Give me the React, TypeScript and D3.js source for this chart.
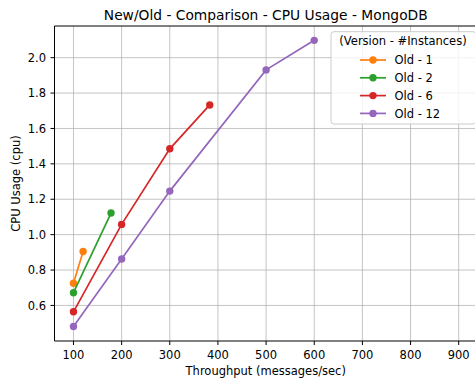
import React from "react";
import * as d3 from "d3";

// Throughput (messages/sec) and CPU usage per deployment size
const old1X = [100, 120];
const old1Y = [0.725, 0.905];
const old2X = [100, 178];
const old2Y = [0.672, 1.122];
const old6X = [100, 200, 300, 383];
const old6Y = [0.564, 1.058, 1.485, 1.733];
const old12X = [100, 200, 300, 500, 600];
const old12Y = [0.481, 0.862, 1.246, 1.931, 2.098];

const seriesNames = ["Old - 1", "Old - 2", "Old - 6", "Old - 12"];
const seriesColors = ["#ff7f0e", "#2ca02c", "#d62728", "#9467bd"];
const xTicks = [100, 200, 300, 400, 500, 600, 700, 800, 900];
const yTicks = [0.6, 0.8, 1.0, 1.2, 1.4, 1.6, 1.8, 2.0];

const W = 475;
const H = 381;
const M = { left: 54.5, right: 477, top: 26, bottom: 341 };
const FONT = "DejaVu Sans, sans-serif";
const FS = 11.5;

export default function App() {
  const x = d3.scaleLinear().domain([60.6, 938]).range([M.left, M.right]);
  const y = d3.scaleLinear().domain([0.399, 2.179]).range([M.bottom, M.top]);

  const series = [
    { xs: old1X, ys: old1Y },
    { xs: old2X, ys: old2Y },
    { xs: old6X, ys: old6Y },
    { xs: old12X, ys: old12Y },
  ].map((s, i) => ({
    name: seriesNames[i],
    color: seriesColors[i],
    pts: s.xs.map((v, j) => [v, s.ys[j]] as [number, number]),
  }));

  const line = d3
    .line<[number, number]>()
    .x((d) => x(d[0]))
    .y((d) => y(d[1]));

  const lg = { x: 331, y: 31.7, w: 145, h: 92.3 };

  return (
    <svg
      width={W}
      height={H}
      style={{ position: "absolute", left: 0, top: 0, background: "#fff" }}
      fontFamily={FONT}
    >
      <defs>
        <clipPath id="plot">
          <rect x={M.left} y={M.top - 5} width={M.right - M.left} height={M.bottom - M.top + 10} />
        </clipPath>
      </defs>
      {/* grid */}
      <g stroke="#b0b0b0" strokeOpacity={0.75} strokeWidth={1}>
        {xTicks.map((t) => (
          <line key={"gx" + t} x1={x(t)} x2={x(t)} y1={M.top} y2={M.bottom} />
        ))}
        {yTicks.map((t) => (
          <line key={"gy" + t} x1={M.left} x2={M.right} y1={y(t)} y2={y(t)} />
        ))}
      </g>
      {/* series */}
      <g clipPath="url(#plot)">
        {series.map((s) => (
          <g key={s.name}>
            <path d={line(s.pts) ?? ""} fill="none" stroke={s.color} strokeWidth={1.7} />
            {s.pts.map((p, j) => (
              <circle key={j} cx={x(p[0])} cy={y(p[1])} r={3.7} fill={s.color} />
            ))}
          </g>
        ))}
      </g>
      {/* spines */}
      <g stroke="#000" strokeWidth={1} fill="none">
        <line x1={M.left} x2={M.left} y1={M.top} y2={M.bottom} />
        <line x1={M.left} x2={M.right} y1={M.bottom} y2={M.bottom} />
        <line x1={M.left} x2={M.right} y1={M.top} y2={M.top} />
        <line x1={M.right} x2={M.right} y1={M.top} y2={M.bottom} />
      </g>
      {/* axes ticks and labels */}
      <g fontSize={FS} fill="#000">
        {xTicks.map((t) => (
          <g key={"xt" + t}>
            <line x1={x(t)} x2={x(t)} y1={M.bottom} y2={M.bottom + 4} stroke="#000" />
            <text x={x(t)} y={359.2} textAnchor="middle">
              {t}
            </text>
          </g>
        ))}
        {yTicks.map((t) => (
          <g key={"yt" + t}>
            <line x1={M.left - 4} x2={M.left} y1={y(t)} y2={y(t)} stroke="#000" />
            <text x={M.left - 8.5} y={y(t) + 4.2} textAnchor="end">
              {t.toFixed(1)}
            </text>
          </g>
        ))}
      </g>
      <text x={(M.left + M.right) / 2} y={375.2} textAnchor="middle" fontSize={FS}>
        Throughput (messages/sec)
      </text>
      <text
        transform={`translate(19.5, ${(M.top + M.bottom) / 2}) rotate(-90)`}
        textAnchor="middle"
        fontSize={FS}
      >
        CPU Usage (cpu)
      </text>
      <text x={(M.left + M.right) / 2} y={19.5} textAnchor="middle" fontSize={13.8}>
        New/Old - Comparison - CPU Usage - MongoDB
      </text>
      {/* legend */}
      <g>
        <rect
          x={lg.x}
          y={lg.y}
          width={lg.w}
          height={lg.h}
          rx={3}
          fill="#fff"
          fillOpacity={0.8}
          stroke="#cccccc"
        />
        <text x={403} y={45.2} textAnchor="middle" fontSize={FS}>
          (Version - #Instances)
        </text>
        {series.map((s, i) => {
          const ry = 60 + i * 17.8;
          return (
            <g key={"lg" + s.name}>
              <line x1={360} x2={386} y1={ry} y2={ry} stroke={s.color} strokeWidth={1.7} />
              <circle cx={373} cy={ry} r={3.7} fill={s.color} />
              <text x={394.5} y={ry + 4.1} fontSize={FS}>
                {s.name}
              </text>
            </g>
          );
        })}
      </g>
    </svg>
  );
}
